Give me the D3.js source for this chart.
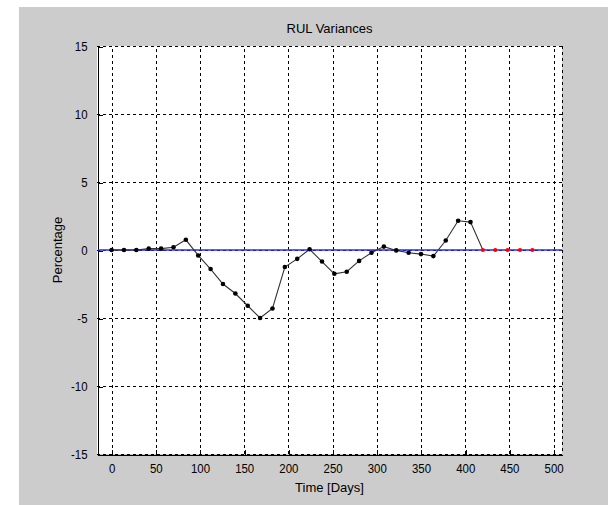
<!DOCTYPE html>
<html>
<head>
<meta charset="utf-8">
<script src="https://cdn.jsdelivr.net/npm/d3@7"></script>
<style>
  html, body { margin: 0; padding: 0; background: #ffffff; }
  svg { display: block; }
  text { font-family: "Liberation Sans", Arial, sans-serif; fill: #000; }
</style>
</head>
<body>
<svg id="chart" width="608" height="505"></svg>
<script>
// Measured RUL variance, sampled every 14 days
const measuredDays = [0, 14, 28, 42, 56, 70, 84, 98, 112, 126, 140, 154, 168, 182, 196,
  210, 224, 238, 252, 266, 280, 294, 308, 322, 336, 350, 364, 378, 392, 406];
const measuredPct = [0, 0, 0, 0.1, 0.1, 0.2, 0.75, -0.4, -1.4, -2.5, -3.2, -4.1, -5.0, -4.3, -1.25,
  -0.65, 0.05, -0.85, -1.75, -1.6, -0.8, -0.2, 0.25, -0.03, -0.2, -0.3, -0.45, 0.7, 2.15, 2.05];

// Projected points (no variance yet)
const projectedDays = [420, 434, 448, 462, 476];
const projectedPct = [0, 0, 0, 0, 0];

const xTicks = [0, 50, 100, 150, 200, 250, 300, 350, 400, 450, 500];
const yTicks = [-15, -10, -5, 0, 5, 10, 15];

const titleText = "RUL Variances";
const xLabel = "Time [Days]";
const yLabel = "Percentage";

const svg = d3.select("#chart");

// figure background
svg.append("rect").attr("x", 19).attr("y", 7).attr("width", 608 - 19).attr("height", 505 - 7)
  .attr("fill", "#cccccc");

const plot = { left: 97, top: 46, right: 562, bottom: 454 };

const x = d3.scaleLinear().domain([-16.5, 509.5]).range([plot.left, plot.right]);
const y = d3.scaleLinear().domain([-15, 15]).range([plot.bottom, plot.top]);

// axes area
svg.append("rect").attr("x", plot.left).attr("y", plot.top)
  .attr("width", plot.right - plot.left).attr("height", plot.bottom - plot.top)
  .attr("fill", "#ffffff");

// dashed grid
const grid = svg.append("g").attr("stroke", "#000").attr("stroke-width", 1)
  .attr("stroke-dasharray", "3,3").attr("shape-rendering", "crispEdges");
grid.selectAll("line.gx").data(xTicks).join("line")
  .attr("x1", d => Math.round(x(d)) + 0.5).attr("x2", d => Math.round(x(d)) + 0.5)
  .attr("y1", plot.bottom).attr("y2", plot.top);
grid.selectAll("line.gy").data(yTicks).join("line")
  .attr("x1", plot.left).attr("x2", plot.right)
  .attr("y1", d => Math.round(y(d)) + 0.5).attr("y2", d => Math.round(y(d)) + 0.5);
// right edge of the box, drawn in the same dashed style
grid.append("line")
  .attr("x1", plot.right + 0.5).attr("x2", plot.right + 0.5)
  .attr("y1", plot.top).attr("y2", plot.bottom);

// axes with inward ticks; plain hyphen for negatives
const fmt = d => String(d);
const xAxis = d3.axisBottom(x).tickValues(xTicks).tickFormat(fmt)
  .tickSizeInner(-5).tickSizeOuter(0).tickPadding(9);
const yAxis = d3.axisLeft(y).tickValues(yTicks).tickFormat(fmt)
  .tickSizeInner(-5).tickSizeOuter(0).tickPadding(10);

const gx = svg.append("g").attr("transform", `translate(0,${plot.bottom + 0.5})`).call(xAxis);
const gy = svg.append("g").attr("transform", `translate(${plot.left + 0.5},0)`).call(yAxis);
[gx, gy].forEach(g => {
  g.selectAll("path.domain").attr("stroke", "#000").attr("shape-rendering", "crispEdges");
  g.selectAll(".tick line").attr("stroke", "#000").attr("shape-rendering", "crispEdges");
  g.selectAll(".tick text").attr("font-size", 13)
    .attr("font-family", "'Liberation Sans', Arial, sans-serif")
    .attr("textLength", null);
});
gx.selectAll(".tick line").attr("transform", "translate(0.5,0)");
gy.selectAll(".tick line").attr("transform", "translate(0,0.5)");
// condensed look for the tick numerals
gx.selectAll(".tick text").attr("transform", "scale(0.88,1)")
  .attr("x", function () { return 0; });
gy.selectAll(".tick text").each(function () {
  const t = d3.select(this);
  const tx = +t.attr("x");
  t.attr("transform", `translate(${tx},0) scale(0.88,1)`).attr("x", 0);
});

// zero reference line
svg.append("line")
  .attr("x1", plot.left + 1).attr("x2", plot.right)
  .attr("y1", y(0)).attr("y2", y(0))
  .attr("stroke", "#2a2aff").attr("stroke-width", 1.3);

// measured series: line continues to the first projected point
const lineDays = measuredDays.concat(projectedDays.slice(0, 1));
const linePct = measuredPct.concat(projectedPct.slice(0, 1));
const line = d3.line().x((d, i) => x(lineDays[i])).y(d => y(d));
svg.append("path").datum(linePct)
  .attr("d", line).attr("fill", "none")
  .attr("stroke", "#333333").attr("stroke-width", 1.1);

svg.append("g").selectAll("circle").data(measuredPct).join("circle")
  .attr("cx", (d, i) => x(measuredDays[i])).attr("cy", d => y(d))
  .attr("r", 2.3).attr("fill", "#000");

svg.append("g").selectAll("circle").data(projectedPct).join("circle")
  .attr("cx", (d, i) => x(projectedDays[i])).attr("cy", d => y(d))
  .attr("r", 2.1).attr("fill", "#ff0000");

// titles
svg.append("text").attr("x", (plot.left + plot.right) / 2).attr("y", 33)
  .attr("text-anchor", "middle").attr("font-size", 13).text(titleText);
svg.append("text").attr("x", (plot.left + plot.right) / 2).attr("y", 492)
  .attr("text-anchor", "middle").attr("font-size", 13).text(xLabel);
svg.append("text").attr("transform", `translate(62,${(plot.top + plot.bottom) / 2}) rotate(-90)`)
  .attr("text-anchor", "middle").attr("font-size", 13).text(yLabel);
</script>
</body>
</html>
